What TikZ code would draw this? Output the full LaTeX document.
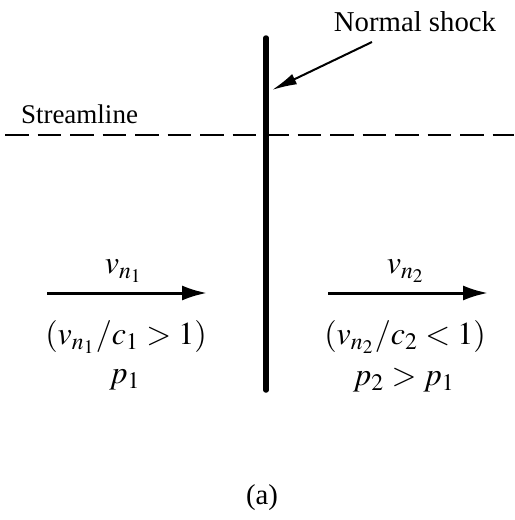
\documentclass[tikz,border=0pt]{standalone}
\usepackage{mathptmx}
\usepackage{fontspec}
\setmainfont{Liberation Serif}
\usetikzlibrary{arrows.meta,positioning,calc}
\tikzset{
 lbl/.style={font=\fontsize{11.5}{13}\selectfont,inner sep=1pt},
 mlbl/.style={lbl,font=\fontsize{12.8}{14}\selectfont},
 shock/.style={line width=2.2pt,line cap=round},
 stream/.style={line width=0.8pt,dash pattern=on 9.5pt off 3.5pt},
 flow/.style={-{Latex[length=10pt,width=6pt]},line width=1.2pt},
 pointer/.style={-{Latex[length=10pt,width=4.5pt]},line width=0.8pt}
}

\begin{document}
\begin{tikzpicture}[x=0.4pt,y=-0.4pt]
\useasboundingbox (0,0) rectangle (514,520);
% shock and streamline
\coordinate (top) at (266,38);
\coordinate (bot) at (266,390);
\draw[shock] (top) -- (bot);
\coordinate (sl) at (5,135);
\coordinate (sr) at (514,135);
\draw[stream] (sl) -- (sr);
\node[lbl,anchor=south west,font=\fontsize{10.8}{13}\selectfont] (streamlbl) at (18,127) {Streamline};
\node[lbl] (shocklbl) at (415,22) {Normal shock};
\coordinate (ptail) at (372,42);
\coordinate (hit) at (272,90);
\draw[pointer] (ptail) -- (hit);
% upstream side
\coordinate (a1) at (47,293);
\coordinate (b1) at (207,293);
\draw[flow] (a1) -- (b1);
\node[mlbl] (v1) at (124,271) {$v_{n_1}$};
\node[mlbl] (m1) at (126,337) {$(v_{n_1}/c_1 > 1)$};
\node[mlbl] (p1) at (125,380) {$p_1$};
% downstream side
\coordinate (a2) at (328,293);
\coordinate (b2) at (488,293);
\draw[flow] (a2) -- (b2);
\node[mlbl] (v2) at (406,271) {$v_{n_2}$};
\node[mlbl] (m2) at (405,337) {$(v_{n_2}/c_2 < 1)$};
\node[mlbl] (p2) at (404,380) {$p_2 > p_1$};
\node[lbl] (cap) at (262,498) {(a)};
\end{tikzpicture}
\end{document}
